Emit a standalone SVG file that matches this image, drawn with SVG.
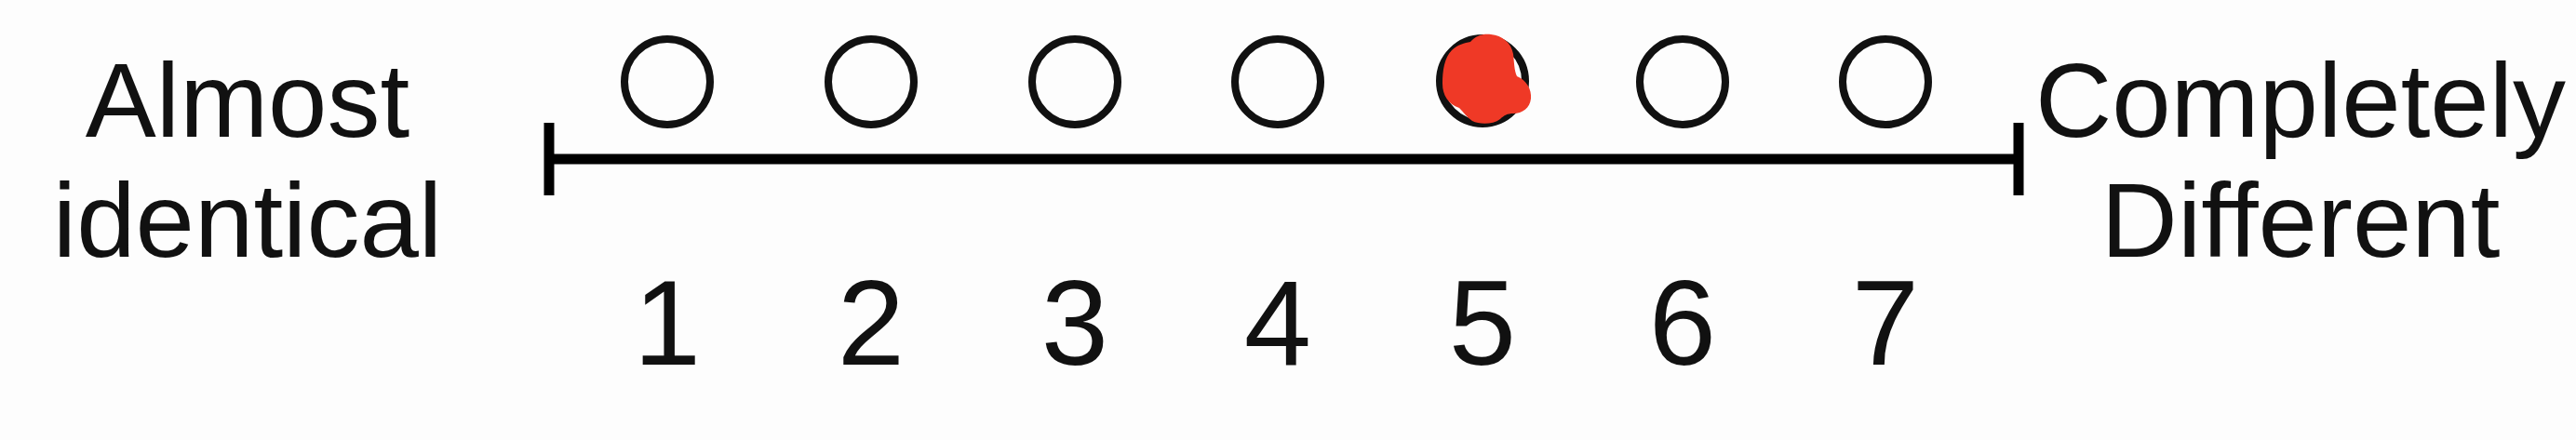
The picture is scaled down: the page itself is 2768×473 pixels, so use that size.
<svg xmlns="http://www.w3.org/2000/svg" width="2768" height="473" viewBox="0 0 2768 473">
<style>
  .lbl{font-family:"Liberation Sans",Arial,Helvetica,sans-serif;font-size:114px;fill:#111;text-anchor:middle}
  .num{font-family:"Liberation Sans",Arial,Helvetica,sans-serif;font-size:130px;fill:#111;text-anchor:middle}
  .opt{fill:none;stroke:#111;stroke-width:8}
  .axis{stroke:#000;stroke-width:11;fill:none}
</style>
<rect width="2768" height="473" fill="#fdfdfd"/>
<g id="connectors">
  <line class="axis" x1="590" y1="171" x2="2169" y2="171"/>
  <line class="axis" x1="590" y1="132" x2="590" y2="210"/>
  <line class="axis" x1="2169" y1="132" x2="2169" y2="210"/>
</g>
<g id="label-left">
  <text class="lbl" x="266" y="147">Almost</text>
  <text class="lbl" x="266" y="276">identical</text>
</g>
<g id="label-right">
  <text class="lbl" x="2472" y="147">Completely</text>
  <text class="lbl" x="2472" y="276">Different</text>
</g>
<g id="opt1"><ellipse class="opt" cx="717" cy="88" rx="46" ry="46"/><text class="num" x="717" y="392">1</text></g>
<g id="opt2"><ellipse class="opt" cx="936" cy="88" rx="46" ry="46"/><text class="num" x="936" y="392">2</text></g>
<g id="opt3"><ellipse class="opt" cx="1155" cy="88" rx="46" ry="46"/><text class="num" x="1155" y="392">3</text></g>
<g id="opt4"><ellipse class="opt" cx="1373" cy="88" rx="46" ry="46"/><text class="num" x="1373" y="392">4</text></g>
<g id="opt5"><ellipse class="opt" cx="1593" cy="87" rx="46" ry="46"/>
  <path d="M1580 45 C1586 38 1594 36 1602 37 C1614 38 1624 46 1626 58 C1627 66 1627 76 1630 82 C1640 86 1646 96 1645 106 C1644 116 1636 122 1626 122 C1620 122 1616 124 1612 128 C1604 134 1590 134 1582 130 C1576 126 1572 120 1568 116 C1556 112 1550 102 1550 90 C1550 76 1552 62 1560 54 C1566 48 1574 46 1580 45 Z" fill="#ef3926"/>
  <text class="num" x="1593" y="392">5</text></g>
<g id="opt6"><ellipse class="opt" cx="1808" cy="88" rx="46" ry="46"/><text class="num" x="1808" y="392">6</text></g>
<g id="opt7"><ellipse class="opt" cx="2026" cy="88" rx="46" ry="46"/><text class="num" x="2026" y="392">7</text></g>
</svg>
